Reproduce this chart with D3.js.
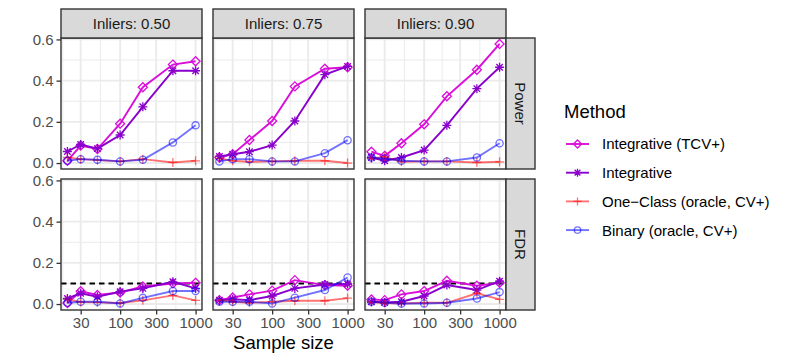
<!DOCTYPE html>
<html>
<head>
<meta charset="utf-8">
<script src="https://cdn.jsdelivr.net/npm/d3@7"></script>
<style>
	body { margin: 0; background: #fff; }
	svg { font-family: "Liberation Sans", Arial, Helvetica, sans-serif; }
</style>
</head>
<body>
<svg id="chart" width="789" height="364"></svg>
<script>

// sample sizes (x, log scale)
var sampleSizes = [20, 30, 50, 100, 200, 500, 1000];
var xTicks = [30, 100, 300, 1000];
var yTicks = [0, 0.2, 0.4, 0.6];
var inliers = ['0.50', '0.75', '0.90'];
var metrics = ['Power', 'FDR'];
var methods = ['Integrative (TCV+)', 'Integrative', 'One\u2212Class (oracle, CV+)', 'Binary (oracle, CV+)'];
var targetFDR = 0.1;

// one row per inlier proportion (0.50, 0.75, 0.90)
var powerTCV = [
	[0.011, 0.085, 0.068, 0.191, 0.368, 0.478, 0.494],
	[0.027, 0.043, 0.112, 0.204, 0.372, 0.458, 0.465],
	[0.055, 0.035, 0.096, 0.188, 0.324, 0.453, 0.578]
];
var powerIntegrative = [
	[0.056, 0.090, 0.070, 0.136, 0.273, 0.448, 0.448],
	[0.032, 0.043, 0.055, 0.087, 0.204, 0.429, 0.469],
	[0.027, 0.011, 0.027, 0.063, 0.183, 0.361, 0.465]
];
var powerOneClass = [
	[0.027, 0.019, 0.014, 0.008, 0.019, 0.003, 0.011],
	[0.022, 0.011, 0.006, 0.008, 0.011, 0.011, 0.000],
	[0.022, 0.030, 0.006, 0.008, 0.008, 0.003, 0.006]
];
var powerBinary = [
	[0.011, 0.019, 0.016, 0.008, 0.016, 0.100, 0.183],
	[0.008, 0.019, 0.019, 0.008, 0.008, 0.048, 0.111],
	[0.027, 0.022, 0.011, 0.008, 0.008, 0.027, 0.096]
];
var fdrTCV = [
	[0.005, 0.062, 0.044, 0.056, 0.085, 0.100, 0.103],
	[0.019, 0.032, 0.047, 0.065, 0.116, 0.092, 0.089],
	[0.022, 0.019, 0.047, 0.063, 0.113, 0.089, 0.103]
];
var fdrIntegrative = [
	[0.027, 0.052, 0.035, 0.060, 0.076, 0.108, 0.076],
	[0.019, 0.023, 0.019, 0.039, 0.076, 0.095, 0.097],
	[0.011, 0.008, 0.011, 0.039, 0.092, 0.068, 0.111]
];
var fdrOneClass = [
	[0.023, 0.010, 0.008, 0.005, 0.018, 0.042, 0.018],
	[0.019, 0.011, 0.006, 0.011, 0.016, 0.016, 0.029],
	[0.010, 0.005, 0.003, 0.006, 0.006, 0.052, 0.023]
];
var fdrBinary = [
	[0.006, 0.011, 0.011, 0.003, 0.030, 0.063, 0.063],
	[0.011, 0.011, 0.011, 0.003, 0.031, 0.068, 0.129],
	[0.011, 0.006, 0.003, 0.003, 0.006, 0.027, 0.058]
];

var seriesByMetric = {
	Power: [powerTCV, powerIntegrative, powerOneClass, powerBinary],
	FDR: [fdrTCV, fdrIntegrative, fdrOneClass, fdrBinary]
};

var methodStyle = [
	{ color: '#d90fd9', opacity: 1, shape: 'diamond' },
	{ color: '#8a00cc', opacity: 1, shape: 'asterisk' },
	{ color: '#ff0000', opacity: 0.55, shape: 'plus' },
	{ color: '#0000ff', opacity: 0.55, shape: 'circle' }
];

var panelX = [61, 213, 365],
	panelY = [38, 179],
	panelW = 141,
	panelH = 131,
	stripH = 29;

var svg = d3.select('#chart');

// ggplot-like 5% expansion
var lx0 = Math.log10(d3.min(sampleSizes)), lx1 = Math.log10(d3.max(sampleSizes)),
	dx = (lx1 - lx0) * 0.05;
var x = d3.scaleLog()
	.domain([Math.pow(10, lx0 - dx), Math.pow(10, lx1 + dx)])
	.range([0, panelW]);

var allValues = [];
metrics.forEach(function (m) {
	seriesByMetric[m].forEach(function (s) {
		s.forEach(function (row) { allValues = allValues.concat(row); });
	});
});
var yMin = d3.min(allValues), yMax = d3.max(allValues), dy = (yMax - yMin) * 0.05;
var y = d3.scaleLinear()
	.domain([yMin - dy, yMax + dy])
	.range([panelH, 0]);

var xMinor = [Math.sqrt(10 * 30), Math.sqrt(30 * 100), Math.sqrt(100 * 300), Math.sqrt(300 * 1000)]
	.filter(function (v) { return v > x.domain()[0] && v < x.domain()[1]; });
var yMinor = [0.1, 0.3, 0.5];

function shapePath(shape, s) {
	if (shape === 'diamond') return 'M0,' + (-s) + 'L' + s + ',0L0,' + s + 'L' + (-s) + ',0Z';
	if (shape === 'plus') return 'M' + (-s) + ',0H' + s + 'M0,' + (-s) + 'V' + s;
	if (shape === 'asterisk') {
		var d = s * 0.72;
		return 'M' + (-s) + ',0H' + s + 'M0,' + (-s) + 'V' + s +
			'M' + (-d) + ',' + (-d) + 'L' + d + ',' + d + 'M' + (-d) + ',' + d + 'L' + d + ',' + (-d);
	}
	return null;
}

function drawPoint(g, style, px, py, size) {
	if (style.shape === 'circle') {
		g.append('circle')
			.attr('cx', px).attr('cy', py).attr('r', size * 0.8)
			.attr('fill', 'none')
			.attr('stroke', style.color)
			.attr('stroke-opacity', style.opacity)
			.attr('stroke-width', 1.3);
	} else {
		g.append('path')
			.attr('transform', 'translate(' + px + ',' + py + ')')
			.attr('d', shapePath(style.shape, size))
			.attr('fill', 'none')
			.attr('stroke', style.color)
			.attr('stroke-opacity', style.opacity)
			.attr('stroke-width', 1.3);
	}
}

var line = d3.line()
	.x(function (d, i) { return x(sampleSizes[i]); })
	.y(function (d) { return y(d); });

metrics.forEach(function (metric, r) {
	inliers.forEach(function (inl, c) {
		var g = svg.append('g')
			.attr('transform', 'translate(' + panelX[c] + ',' + panelY[r] + ')');

		g.append('rect')
			.attr('width', panelW)
			.attr('height', panelH)
			.attr('fill', '#fff');

		// minor grid
		g.selectAll('line.xminor').data(xMinor).enter().append('line')
			.attr('x1', function (d) { return x(d); }).attr('x2', function (d) { return x(d); })
			.attr('y1', 0).attr('y2', panelH)
			.attr('stroke', '#ebebeb').attr('stroke-width', 1);
		g.selectAll('line.yminor').data(yMinor).enter().append('line')
			.attr('y1', function (d) { return y(d); }).attr('y2', function (d) { return y(d); })
			.attr('x1', 0).attr('x2', panelW)
			.attr('stroke', '#ebebeb').attr('stroke-width', 1);
		// major grid
		g.selectAll('line.xmajor').data(xTicks).enter().append('line')
			.attr('x1', function (d) { return x(d); }).attr('x2', function (d) { return x(d); })
			.attr('y1', 0).attr('y2', panelH)
			.attr('stroke', '#ebebeb').attr('stroke-width', 1.9);
		g.selectAll('line.ymajor').data(yTicks).enter().append('line')
			.attr('y1', function (d) { return y(d); }).attr('y2', function (d) { return y(d); })
			.attr('x1', 0).attr('x2', panelW)
			.attr('stroke', '#ebebeb').attr('stroke-width', 1.9);

		if (metric === 'FDR') {
			g.append('line')
				.attr('x1', 0).attr('x2', panelW)
				.attr('y1', y(targetFDR)).attr('y2', y(targetFDR))
				.attr('stroke', '#000')
				.attr('stroke-width', 1.9)
				.attr('stroke-dasharray', '5.5,4');
		}

		seriesByMetric[metric].forEach(function (series, m) {
			var st = methodStyle[m];
			var vals = series[c];
			g.append('path')
				.attr('d', line(vals))
				.attr('fill', 'none')
				.attr('stroke', st.color)
				.attr('stroke-opacity', st.opacity)
				.attr('stroke-width', 1.9);
			vals.forEach(function (v, i) {
				drawPoint(g, st, x(sampleSizes[i]), y(v), 4.5);
			});
		});

		g.append('rect')
			.attr('width', panelW)
			.attr('height', panelH)
			.attr('fill', 'none')
			.attr('stroke', '#333')
			.attr('stroke-width', 1.4);

		// top strips
		if (r === 0) {
			var strip = svg.append('g')
				.attr('transform', 'translate(' + panelX[c] + ',' + (panelY[0] - stripH) + ')');
			strip.append('rect')
				.attr('width', panelW)
				.attr('height', stripH)
				.attr('fill', '#d9d9d9')
				.attr('stroke', '#333')
				.attr('stroke-width', 1.4);
			strip.append('text')
				.attr('x', panelW / 2)
				.attr('y', stripH / 2)
				.attr('dy', '0.36em')
				.attr('text-anchor', 'middle')
				.attr('font-size', 15)
				.attr('fill', '#1a1a1a')
				.text('Inliers: ' + inl);
		}

		// right strips
		if (c === inliers.length - 1) {
			var rs = svg.append('g')
				.attr('transform', 'translate(' + (panelX[c] + panelW) + ',' + panelY[r] + ')');
			rs.append('rect')
				.attr('width', stripH)
				.attr('height', panelH)
				.attr('fill', '#d9d9d9')
				.attr('stroke', '#333')
				.attr('stroke-width', 1.4);
			rs.append('text')
				.attr('transform', 'translate(' + (stripH / 2) + ',' + (panelH / 2) + ') rotate(90)')
				.attr('dy', '0.36em')
				.attr('text-anchor', 'middle')
				.attr('font-size', 15)
				.attr('fill', '#1a1a1a')
				.text(metric);
		}

		// y axis on first column
		if (c === 0) {
			var ya = svg.append('g')
				.attr('transform', 'translate(' + panelX[0] + ',' + panelY[r] + ')')
				.call(d3.axisLeft(y).tickValues(yTicks).tickFormat(d3.format('.1f')).tickSize(4.5).tickPadding(3));
			ya.select('.domain').remove();
			ya.selectAll('line').attr('stroke', '#333').attr('stroke-width', 1.3);
			ya.selectAll('text')
				.attr('font-size', 15)
				.attr('fill', '#4d4d4d')
				.attr('font-family', null);
		}

		// x axis on bottom row
		if (r === metrics.length - 1) {
			var xa = svg.append('g')
				.attr('transform', 'translate(' + panelX[c] + ',' + (panelY[r] + panelH) + ')')
				.call(d3.axisBottom(x).tickValues(xTicks).tickFormat(d3.format('d')).tickSize(4.5).tickPadding(3));
			xa.select('.domain').remove();
			xa.selectAll('line').attr('stroke', '#333').attr('stroke-width', 1.3);
			xa.selectAll('text')
				.attr('font-size', 15)
				.attr('fill', '#4d4d4d')
				.attr('font-family', null);
		}
	});
});

// axis title
svg.append('text')
	.attr('x', (panelX[0] + panelX[2] + panelW) / 2)
	.attr('y', 349)
	.attr('text-anchor', 'middle')
	.attr('font-size', 18.5)
	.attr('fill', '#000')
	.text('Sample size');

// legend
var legend = svg.append('g')
	.attr('transform', 'translate(564,0)');
legend.append('text')
	.attr('x', 0)
	.attr('y', 118)
	.attr('font-size', 18.5)
	.attr('fill', '#000')
	.text('Method');

methods.forEach(function (name, i) {
	var st = methodStyle[i];
	var ly = 144 + i * 28.7;
	var item = legend.append('g');
	item.append('line')
		.attr('x1', 2).attr('x2', 25)
		.attr('y1', ly).attr('y2', ly)
		.attr('stroke', st.color)
		.attr('stroke-opacity', st.opacity)
		.attr('stroke-width', 1.9);
	drawPoint(item, st, 13.5, ly, 4);
	item.append('text')
		.attr('x', 38)
		.attr('y', ly)
		.attr('dy', '0.36em')
		.attr('font-size', 15)
		.attr('fill', '#000')
		.text(name);
});

</script>
</body>
</html>
